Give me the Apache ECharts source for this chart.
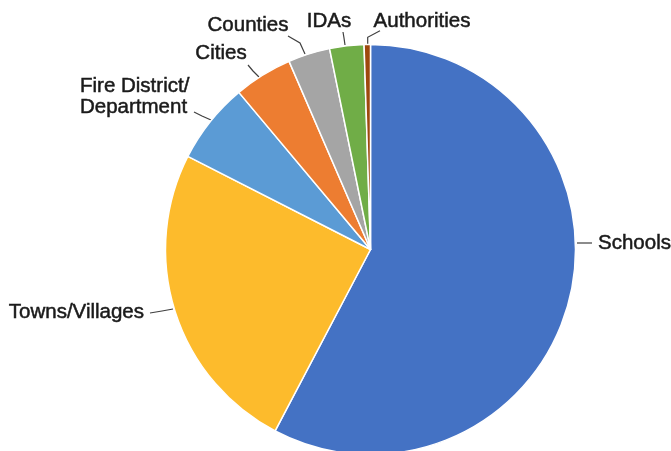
<!DOCTYPE html>
<html><head><meta charset="utf-8">
<script src="https://cdn.jsdelivr.net/npm/echarts@6/dist/echarts.min.js"></script>
<style>html,body{margin:0;padding:0;background:#fff}#c{width:671px;height:451px}</style>
</head><body><div id="c"></div>
<script>
const categories = ['Schools', 'Towns/Villages', 'Fire District/\nDepartment', 'Cities', 'Counties', 'IDAs', 'Authorities'];
const shares = [57.7, 24.8, 6.4, 4.6, 3.3, 2.7, 0.5];
const colors = ['#4472C4', '#FDBB2C', '#5B9BD5', '#ED7D31', '#A5A5A5', '#70AD47', '#9E480E'];

// label placement (style only): text anchor, alignment, leader line points
const labelPlacement = [
  {x: 598, y: 243, align: 'left',   line: [[577, 243], [585, 243], [592, 243]]},
  {x: 144, y: 312, align: 'right',  line: [[173, 309], [162, 311], [150, 313]]},
  {x: 80,  y: 97,  align: 'left',   line: [[211, 120], [202, 116], [194, 112]]},
  {x: 221, y: 53,  align: 'center', line: [[259, 77], [253, 71], [248, 65]]},
  {x: 248, y: 25,  align: 'center', line: [[305, 54], [300, 43], [288, 36]]},
  {x: 329, y: 21,  align: 'center', line: [[345, 45], [344, 38], [343, 32]]},
  {x: 422, y: 21,  align: 'center', line: [[367.7, 44], [367.7, 37.3], [380, 30.7]]}
];

const chart = echarts.init(document.getElementById('c'), null, {renderer: 'canvas'});
chart.setOption({
  animation: false,
  backgroundColor: '#ffffff',
  series: [{
    type: 'pie',
    center: [370.5, 249.5],
    radius: 205,
    startAngle: 90,
    clockwise: true,
    avoidLabelOverlap: false,
    itemStyle: {borderColor: '#ffffff', borderWidth: 1.5},
    label: {
      show: true,
      position: 'outside',
      color: '#1a1a1a',
      fontFamily: 'Liberation Sans, Arial, sans-serif',
      fontSize: 20.5,
      lineHeight: 21,
      textBorderColor: '#1a1a1a',
      textBorderWidth: 0.5
    },
    labelLine: {show: true, lineStyle: {color: '#404040', width: 1.2}},
    labelLayout: function (p) {
      const lp = labelPlacement[p.dataIndex];
      return {x: lp.x, y: lp.y, align: lp.align, verticalAlign: 'middle', labelLinePoints: lp.line};
    },
    data: categories.map((name, i) => ({name: name, value: shares[i], itemStyle: {color: colors[i]}}))
  }]
});
</script>
</body></html>
